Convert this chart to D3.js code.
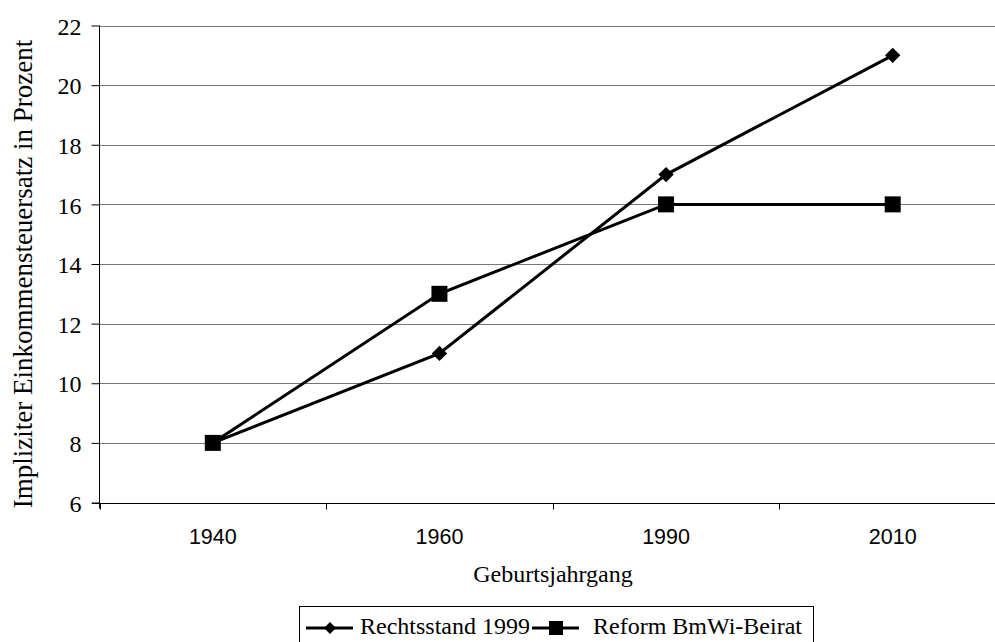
<!DOCTYPE html>
<html><head><meta charset="utf-8">
<script src="https://cdn.jsdelivr.net/npm/d3@7"></script>
<style>body{margin:0;background:#fff}svg{display:block}</style>
</head><body>
<script>
const categories = ["1940", "1960", "1990", "2010"];
const rechtsstand = [8, 11, 17, 21];
const reform = [8, 13, 16, 16];
const yTicks = [6, 8, 10, 12, 14, 16, 18, 20, 22];
const seriesNames = ["Rechtsstand 1999", "Reform BmWi-Beirat"];

const W = 995, H = 642;
const svg = d3.select("body").append("svg").attr("width", W).attr("height", H);
const serif = "'Liberation Serif','Times New Roman',serif";
const sans = "'Liberation Sans',Arial,sans-serif";

const x = d3.scaleBand().domain(categories).range([99.5, 1006]).padding(0);
const y = d3.scaleLinear().domain([6, 22]).range([502.5, 25.5]);

// gridlines
svg.append("g").selectAll("line").data(yTicks.slice(1)).join("line")
  .attr("x1", 99.5).attr("x2", W).attr("y1", d => Math.round(y(d)) + 0.5).attr("y2", d => Math.round(y(d)) + 0.5)
  .attr("stroke", "#777").attr("stroke-width", 1);

// y axis
const yAxis = d3.axisLeft(y).tickValues(yTicks).tickSize(8).tickPadding(10);
const gy = svg.append("g").attr("transform", "translate(99.5,0)").call(yAxis);
gy.select(".domain").attr("stroke", "#000").attr("d", `M0,${y(22)}V${y(6) + 6}`);
gy.selectAll(".tick line").attr("stroke", "#000");
gy.selectAll("text").attr("font-family", serif).attr("font-size", 24).attr("fill", "#000").attr("dy", "0.36em");

// x axis
const gx = svg.append("g").attr("transform", `translate(0,${Math.round(y(6)) + 0.5})`);
gx.append("line").attr("x1", 92).attr("x2", W).attr("stroke", "#000");
gx.selectAll("line.t").data(categories).join("line").attr("class", "t")
  .attr("x1", d => Math.round(x(d)) + 0.5).attr("x2", d => Math.round(x(d)) + 0.5)
  .attr("y1", 0).attr("y2", 6).attr("stroke", "#000");
gx.selectAll("text").data(categories).join("text")
  .attr("x", d => x(d) + x.bandwidth() / 2).attr("y", 40)
  .attr("text-anchor", "middle").attr("font-family", sans).attr("font-size", 21.5).text(d => d);

// axis titles
svg.append("text").attr("x", 553).attr("y", 582).attr("text-anchor", "middle")
  .attr("font-family", serif).attr("font-size", 24).text("Geburtsjahrgang");
svg.append("text").attr("transform", "translate(32,274) rotate(-90)").attr("text-anchor", "middle")
  .attr("font-family", serif).attr("font-size", 27).text("Impliziter Einkommensteuersatz in Prozent");

const cx = c => x(c) + x.bandwidth() / 2;
const line = d3.line().x((d, i) => cx(categories[i])).y(d => y(d));

function drawSeries(vals, shape) {
  svg.append("path").datum(vals).attr("d", line).attr("fill", "none").attr("stroke", "#000").attr("stroke-width", 3);
  const g = svg.append("g");
  vals.forEach((v, i) => {
    if (shape === "diamond") {
      g.append("path").attr("d", d3.symbol(d3.symbolDiamond2, 150)())
        .attr("transform", `translate(${cx(categories[i])},${y(v)})`).attr("fill", "#000");
    } else {
      g.append("rect").attr("x", cx(categories[i]) - 8).attr("y", y(v) - 8)
        .attr("width", 16).attr("height", 16).attr("fill", "#000");
    }
  });
}
drawSeries(rechtsstand, "diamond");
drawSeries(reform, "square");

// legend
const lg = svg.append("g");
lg.append("rect").attr("x", 299.5).attr("y", 606.5).attr("width", 514).attr("height", 50)
  .attr("fill", "#fff").attr("stroke", "#000");
const items = [{name: seriesNames[0], shape: "diamond", x0: 306, tx: 360},
               {name: seriesNames[1], shape: "square", x0: 532, tx: 593}];
items.forEach(it => {
  lg.append("line").attr("x1", it.x0).attr("x2", it.x0 + 47).attr("y1", 628).attr("y2", 628)
    .attr("stroke", "#000").attr("stroke-width", 3);
  if (it.shape === "diamond") {
    lg.append("path").attr("d", d3.symbol(d3.symbolDiamond2, 90)())
      .attr("transform", `translate(${it.x0 + 24},628)`).attr("fill", "#000");
  } else {
    lg.append("rect").attr("x", it.x0 + 17).attr("y", 621).attr("width", 14).attr("height", 14).attr("fill", "#000");
  }
  lg.append("text").attr("x", it.tx).attr("y", 634).attr("font-family", serif).attr("font-size", 24).text(it.name);
});
</script>
</body></html>
